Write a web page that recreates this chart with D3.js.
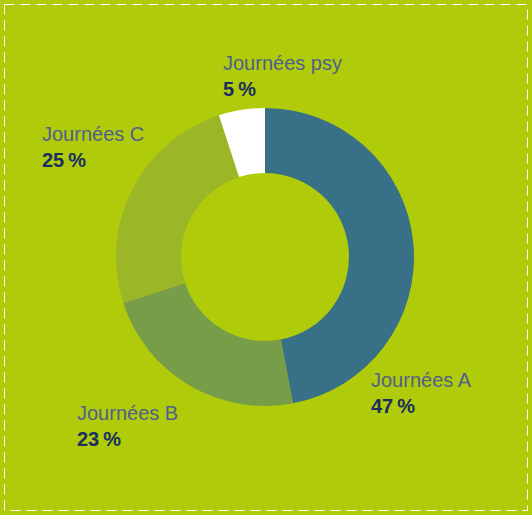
<!DOCTYPE html>
<html><head><meta charset="utf-8">
<script src="https://cdn.jsdelivr.net/npm/d3@7"></script>
<style>body{margin:0;background:#fff}</style></head>
<body><svg id="c" width="532" height="515"></svg>
<script>
const categories = ["Journées A","Journées B","Journées C","Journées psy"];
const values = [47,23,25,5];
const colors = ["#377087","#779d48","#9bb626","#ffffff"];
const labelPos = [[371,387],[77,420],[42,141],[223,70]];

const svg = d3.select("#c");
svg.append("rect").attr("width",532).attr("height",515).attr("fill","#b0cb0a");
svg.append("rect").attr("x",4.5).attr("y",4.5).attr("width",523).attr("height",506)
  .attr("fill","none").attr("stroke","#fff").attr("stroke-dasharray","10,6");
const pie = d3.pie().sort(null).value(d=>d)(values);
const arc = d3.arc().innerRadius(84).outerRadius(149);
const g = svg.append("g").attr("transform","translate(265,257)");
g.selectAll("path").data(pie).join("path").attr("d",arc).attr("fill",(d,i)=>colors[i]);
categories.forEach((c,i)=>{
  const [x,y]=labelPos[i];
  svg.append("text").attr("x",x).attr("y",y).attr("font-family","Liberation Sans, Arial, sans-serif")
    .attr("font-size",20).attr("fill","#505f8c").text(c);
  svg.append("text").attr("x",x).attr("y",y+26).attr("font-family","Liberation Sans, Arial, sans-serif")
    .attr("font-size",20).attr("font-weight","bold").attr("fill","#1b2f5e").text(values[i]+"\u2009%");
});
</script></body></html>
